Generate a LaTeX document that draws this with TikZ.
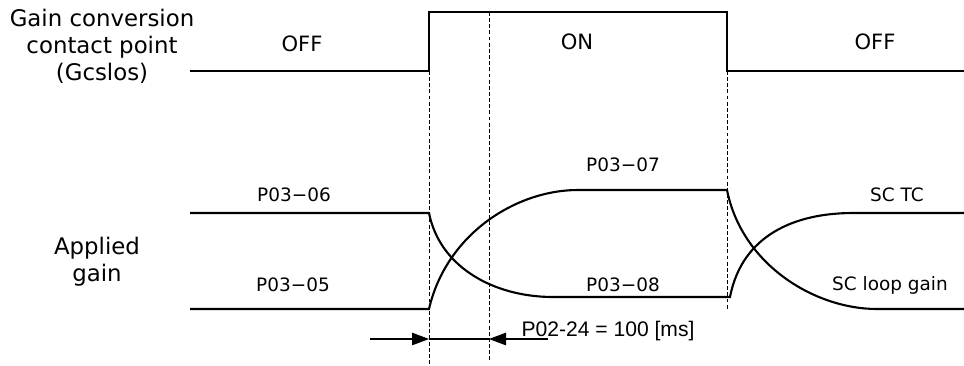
\documentclass[tikz,border=0pt]{standalone}
\usepackage{fontspec}
\setmainfont{DejaVu Sans}
\newfontfamily\arialfont{Liberation Sans}
\usetikzlibrary{arrows.meta,positioning}

\begin{document}
\begin{tikzpicture}[
  x=0.2mm,y=-0.2mm,
  sig/.style={line width=1.2pt,line join=miter},
  guide/.style={line width=0.5pt,dash pattern=on 2.2pt off 1.3pt},
  dim/.style={line width=0.6pt,-{Triangle[length=3.4mm,width=2.5mm]}},
  sidelbl/.style={align=center,font=\fontsize{13}{15.3}\selectfont},
  statelbl/.style={font=\fontsize{12}{14}\selectfont},
  parlbl/.style={font=\fontsize{10.5}{12}\selectfont},
]
\useasboundingbox (0,0) rectangle (964,365);

% switching instants
\coordinate (on) at (429,71);
\coordinate (onhi) at (429,12);
\coordinate (offhi) at (727,12);
\coordinate (off) at (727,71);
\coordinate (dly) at (489,12);

% contact point signal
\draw[sig] (190,71) -- (on) -- (onhi) -- (offhi) -- (off) -- (964,71);

\node[sidelbl] (gcs) at (102,46) {Gain conversion\\contact point\\(Gcslos)};
\node[statelbl] (off1) at (302,44) {OFF};
\node[statelbl] (onlbl) at (577,42) {ON};
\node[statelbl] (off2) at (875,42) {OFF};

% guide lines
\coordinate (on-b) at (429,365);
\coordinate (dly-b) at (489,362);
\coordinate (off-b) at (727,310);
\draw[guide] (on) -- (on-b);
\draw[guide] (dly) -- (dly-b);
\draw[guide] (off) -- (off-b);

% applied gain
\coordinate (hiA) at (429,213);
\coordinate (loA) at (429,309);
\coordinate (hiB) at (578,190);
\coordinate (loB) at (553,297);
\coordinate (hiC) at (727,190);
\coordinate (loC) at (730,297);
\coordinate (hiD) at (853,213);
\coordinate (loD) at (877,309);

\draw[sig] (190,213) -- (hiA) .. controls (440,268) and (495,297) .. (loB) -- (loC)
  .. controls (742,235) and (795,213) .. (hiD) -- (964,213);
\draw[sig] (190,309) -- (loA) .. controls (446,235) and (515,190) .. (hiB) -- (hiC)
  .. controls (742,265) and (815,309) .. (loD) -- (964,309);

\node[sidelbl] (gain) at (97,262) {Applied\\gain};
\node[parlbl] (p06) at (294,195) {P03−06};
\node[parlbl] (p05) at (293,285) {P03−05};
\node[parlbl] (p07) at (623,165) {P03−07};
\node[parlbl] (p08) at (623,285) {P03−08};
\node[parlbl] (sctc) at (897,195) {SC TC};
\node[parlbl] (scloop) at (890,285) {SC loop gain};

% delay time
\coordinate (a1) at (429,339);
\coordinate (a2) at (489,339);
\coordinate (t1) at (370,339);
\coordinate (t2) at (548,339);
\draw[dim] (t1) -- (a1);
\draw[line width=0.6pt] (a1) -- (a2);
\draw[dim] (t2) -- (a2);
\node[anchor=base,font=\arialfont\fontsize{12}{14}\selectfont] (dtime) at (608,336) {P02-24 = 100 [ms]};
\end{tikzpicture}
\end{document}
